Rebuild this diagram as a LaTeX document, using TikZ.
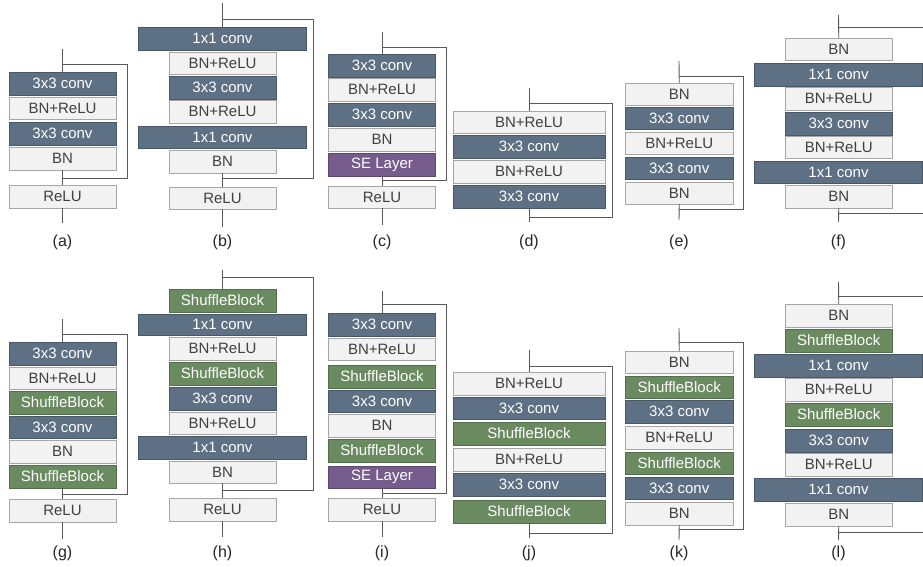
\documentclass[tikz,border=0pt]{standalone}
\usepackage{fontspec}
\setmainfont{Liberation Sans}
\definecolor{convc}{RGB}{94,112,131}
\definecolor{convd}{RGB}{72,86,101}
\definecolor{shufc}{RGB}{106,138,96}
\definecolor{shufd}{RGB}{84,110,76}
\definecolor{sec}{RGB}{117,92,141}
\definecolor{sed}{RGB}{92,72,112}
\definecolor{lightc}{RGB}{242,242,242}
\definecolor{lightd}{RGB}{166,166,166}
\definecolor{txtc}{RGB}{64,64,64}
\definecolor{linec}{RGB}{89,89,89}
\tikzset{
  base/.style={inner sep=0pt, outer sep=0pt, line width=0.9pt, font=\fontsize{15}{18}\selectfont},
  lbox/.style={base, draw=lightd, fill=lightc, text=txtc},
  cbox/.style={base, draw=convd, fill=convc, text=white},
  gbox/.style={base, draw=shufd, fill=shufc, text=white},
  pbox/.style={base, draw=sed, fill=sec, text=white},
  conn/.style={draw=linec, line width=0.9pt},
  lab/.style={inner sep=0pt, text=black!85, font=\fontsize{16}{19}\selectfont}
}
% \bx{name}{style}{x1}{x2}{y1}{y2}{text}
\newcommand\bx[7]{\node[#2, minimum width={#4-#3}, minimum height={#6-#5}] (#1) at ({(#3+#4)/2},{(#5+#6)/2}) {#7};}
% \sk{prefix}{cx}{top}{branch}{skipx}{junction}{out}
\newcommand\sk[7]{%
  \coordinate (#1-in) at (#2,#3);
  \coordinate (#1-br) at (#2,#4);
  \coordinate (#1-s1) at (#5,#4);
  \coordinate (#1-s2) at (#5,#6);
  \coordinate (#1-jn) at (#2,#6);
  \coordinate (#1-out) at (#2,#7);
  \draw[conn] (#1-br) -- (#1-s1) -- (#1-s2) -- (#1-jn);
}
\begin{document}
\begin{tikzpicture}[x=1pt,y=-1pt]
\useasboundingbox (0,0) rectangle (923,567);
\fill[white] (0,0) rectangle (923,567);

% ---------------- (a)
\sk{a}{62.5}{49}{64}{127.5}{178}{223}
\bx{a1}{cbox}{9}{116}{72}{95.5}{3x3 conv}
\bx{a2}{lbox}{9}{116}{97}{119.5}{BN+ReLU}
\bx{a3}{cbox}{9}{116}{122}{145.5}{3x3 conv}
\bx{a4}{lbox}{9}{116}{147}{170}{BN}
\bx{ar}{lbox}{9}{116}{185}{208}{ReLU}
\draw[conn] (a-in) -- (a1.north);
\draw[conn] (a4.south) -- (ar.north);
\draw[conn] (ar.south) -- (a-out);
\node[lab] (la) at (62.5,242) {(a)};

% ---------------- (b)
\sk{b}{222.5}{3}{19}{313}{178}{227}
\bx{b1}{cbox}{138.5}{306.5}{27}{50}{1x1 conv}
\bx{b2}{lbox}{169}{276}{52}{74}{BN+ReLU}
\bx{b3}{cbox}{169}{276}{76}{99}{3x3 conv}
\bx{b4}{lbox}{169}{276}{100.5}{123}{BN+ReLU}
\bx{b5}{cbox}{138.5}{306.5}{126}{148}{1x1 conv}
\bx{b6}{lbox}{169}{276}{150}{173}{BN}
\bx{br}{lbox}{169}{276}{187}{209}{ReLU}
\draw[conn] (b-in) -- (b1.north);
\draw[conn] (b6.south) -- (br.north);
\draw[conn] (br.south) -- (b-out);
\node[lab] (lb) at (222.5,242) {(b)};

% ---------------- (c)
\sk{c}{382}{32}{47}{446.5}{180}{225}
\bx{c1}{cbox}{328.5}{435.5}{54}{77}{3x3 conv}
\bx{c2}{lbox}{328.5}{435.5}{78.5}{101}{BN+ReLU}
\bx{c3}{cbox}{328.5}{435.5}{103}{126}{3x3 conv}
\bx{c4}{lbox}{328.5}{435.5}{128}{151}{BN}
\bx{c5}{pbox}{328.5}{435.5}{153}{176}{SE Layer}
\bx{cr}{lbox}{328.5}{435.5}{186}{208}{ReLU}
\draw[conn] (c-in) -- (c1.north);
\draw[conn] (c5.south) -- (cr.north);
\draw[conn] (cr.south) -- (c-out);
\node[lab] (lc) at (382,242) {(c)};

% ---------------- (d)
\sk{d}{529}{88}{103}{612.5}{217}{222}
\bx{d1}{lbox}{453}{605}{111}{133}{BN+ReLU}
\bx{d2}{cbox}{453}{605}{135}{158}{3x3 conv}
\bx{d3}{lbox}{453}{605}{160}{183}{BN+ReLU}
\bx{d4}{cbox}{453}{605}{185}{208}{3x3 conv}
\draw[conn] (d-in) -- (d1.north);
\draw[conn] (d4.south) -- (d-out);
\node[lab] (ld) at (529,242) {(d)};

% ---------------- (e)
\sk{e}{679}{61}{76}{743}{209}{220}
\bx{e1}{lbox}{625.5}{733}{83}{105}{BN}
\bx{e2}{cbox}{625.5}{733}{107}{129.5}{3x3 conv}
\bx{e3}{lbox}{625.5}{733}{132}{154}{BN+ReLU}
\bx{e4}{cbox}{625.5}{733}{157}{179.5}{3x3 conv}
\bx{e5}{lbox}{625.5}{733}{182}{204}{BN}
\draw[conn] (e-in) -- (e1.north);
\draw[conn] (e5.south) -- (e-out);
\node[lab] (le) at (679,242) {(e)};

% ---------------- (f)
\sk{f}{838.5}{15}{27}{923.5}{213}{222}
\bx{f1}{lbox}{785.5}{892}{38}{60}{BN}
\bx{f2}{cbox}{754.5}{922.5}{63}{86}{1x1 conv}
\bx{f3}{lbox}{785.5}{892}{87.5}{110}{BN+ReLU}
\bx{f4}{cbox}{785.5}{892}{112}{135}{3x3 conv}
\bx{f5}{lbox}{785.5}{892}{136.5}{158.5}{BN+ReLU}
\bx{f6}{cbox}{754.5}{922.5}{161}{183}{1x1 conv}
\bx{f7}{lbox}{785.5}{892}{185}{208}{BN}
\draw[conn] (f-in) -- (f1.north);
\draw[conn] (f7.south) -- (f-out);
\node[lab] (lf) at (838.5,242) {(f)};

% ---------------- (g)
\sk{g}{62.5}{319}{334}{127.5}{494}{539}
\bx{g1}{cbox}{9}{116}{342}{365}{3x3 conv}
\bx{g2}{lbox}{9}{116}{367}{389}{BN+ReLU}
\bx{g3}{gbox}{9}{116}{391}{414}{ShuffleBlock}
\bx{g4}{cbox}{9}{116}{416}{438}{3x3 conv}
\bx{g5}{lbox}{9}{116}{440}{463}{BN}
\bx{g6}{gbox}{9}{116}{465}{488}{ShuffleBlock}
\bx{gr}{lbox}{9}{116}{499}{522}{ReLU}
\draw[conn] (g-in) -- (g1.north);
\draw[conn] (g6.south) -- (gr.north);
\draw[conn] (gr.south) -- (g-out);
\node[lab] (lg) at (62.5,553) {(g)};

% ---------------- (h)
\sk{h}{222.5}{270}{277}{313}{490}{537}
\bx{h1}{gbox}{169}{276}{289}{312}{ShuffleBlock}
\bx{h2}{cbox}{138.5}{306.5}{314}{335}{1x1 conv}
\bx{h3}{lbox}{169}{276}{337}{360}{BN+ReLU}
\bx{h4}{gbox}{169}{276}{362}{385}{ShuffleBlock}
\bx{h5}{cbox}{169}{276}{387}{410}{3x3 conv}
\bx{h6}{lbox}{169}{276}{412}{434}{BN+ReLU}
\bx{h7}{cbox}{138.5}{306.5}{436}{459}{1x1 conv}
\bx{h8}{lbox}{169}{276}{461}{483}{BN}
\bx{hr}{lbox}{169}{276}{498}{521}{ReLU}
\draw[conn] (h-in) -- (h1.north);
\draw[conn] (h8.south) -- (hr.north);
\draw[conn] (hr.south) -- (h-out);
\node[lab] (lh) at (222.5,553) {(h)};

% ---------------- (i)
\sk{i}{382}{291}{304}{446.5}{493}{537}
\bx{i1}{cbox}{328.5}{435.5}{313}{336}{3x3 conv}
\bx{i2}{lbox}{328.5}{435.5}{338}{360}{BN+ReLU}
\bx{i3}{gbox}{328.5}{435.5}{365}{388}{ShuffleBlock}
\bx{i4}{cbox}{328.5}{435.5}{390}{412.5}{3x3 conv}
\bx{i5}{lbox}{328.5}{435.5}{414.5}{437}{BN}
\bx{i6}{gbox}{328.5}{435.5}{439}{462}{ShuffleBlock}
\bx{i7}{pbox}{328.5}{435.5}{466}{488}{SE Layer}
\bx{ir}{lbox}{328.5}{435.5}{498}{521}{ReLU}
\draw[conn] (i-in) -- (i1.north);
\draw[conn] (i7.south) -- (ir.north);
\draw[conn] (ir.south) -- (i-out);
\node[lab] (li) at (382,553) {(i)};

% ---------------- (j)
\sk{j}{529}{350}{366}{612.5}{533}{538}
\bx{j1}{lbox}{453}{605}{372}{395}{BN+ReLU}
\bx{j2}{cbox}{453}{605}{397}{419.5}{3x3 conv}
\bx{j3}{gbox}{453}{605}{422}{445}{ShuffleBlock}
\bx{j4}{lbox}{453}{605}{448}{471}{BN+ReLU}
\bx{j5}{cbox}{453}{605}{473}{496}{3x3 conv}
\bx{j6}{gbox}{453}{605}{500}{523}{ShuffleBlock}
\draw[conn] (j-in) -- (j1.north);
\draw[conn] (j6.south) -- (j-out);
\node[lab] (lj) at (529,553) {(j)};

% ---------------- (k)
\sk{k}{679}{328}{342}{743}{529}{540}
\bx{k1}{lbox}{625.5}{733}{351}{373}{BN}
\bx{k2}{gbox}{625.5}{733}{376}{398}{ShuffleBlock}
\bx{k3}{cbox}{625.5}{733}{400}{423}{3x3 conv}
\bx{k4}{lbox}{625.5}{733}{426}{449}{BN+ReLU}
\bx{k5}{gbox}{625.5}{733}{452}{474}{ShuffleBlock}
\bx{k6}{cbox}{625.5}{733}{477}{499}{3x3 conv}
\bx{k7}{lbox}{625.5}{733}{502}{525}{BN}
\draw[conn] (k-in) -- (k1.north);
\draw[conn] (k7.south) -- (k-out);
\node[lab] (lk) at (679,553) {(k)};

% ---------------- (l)
\sk{l}{838.5}{282}{296}{923.5}{532}{540}
\bx{l1}{lbox}{785.5}{892}{304}{327}{BN}
\bx{l2}{gbox}{785.5}{892}{329}{352}{ShuffleBlock}
\bx{l3}{cbox}{754.5}{922.5}{354}{377}{1x1 conv}
\bx{l4}{lbox}{785.5}{892}{378.5}{401}{BN+ReLU}
\bx{l5}{gbox}{785.5}{892}{403}{426}{ShuffleBlock}
\bx{l6}{cbox}{785.5}{892}{429}{452}{3x3 conv}
\bx{l7}{lbox}{785.5}{892}{453.5}{476}{BN+ReLU}
\bx{l8}{cbox}{754.5}{922.5}{478}{501}{1x1 conv}
\bx{l9}{lbox}{785.5}{892}{503}{526}{BN}
\draw[conn] (l-in) -- (l1.north);
\draw[conn] (l9.south) -- (l-out);
\node[lab] (ll) at (838.5,553) {(l)};
\end{tikzpicture}
\end{document}
